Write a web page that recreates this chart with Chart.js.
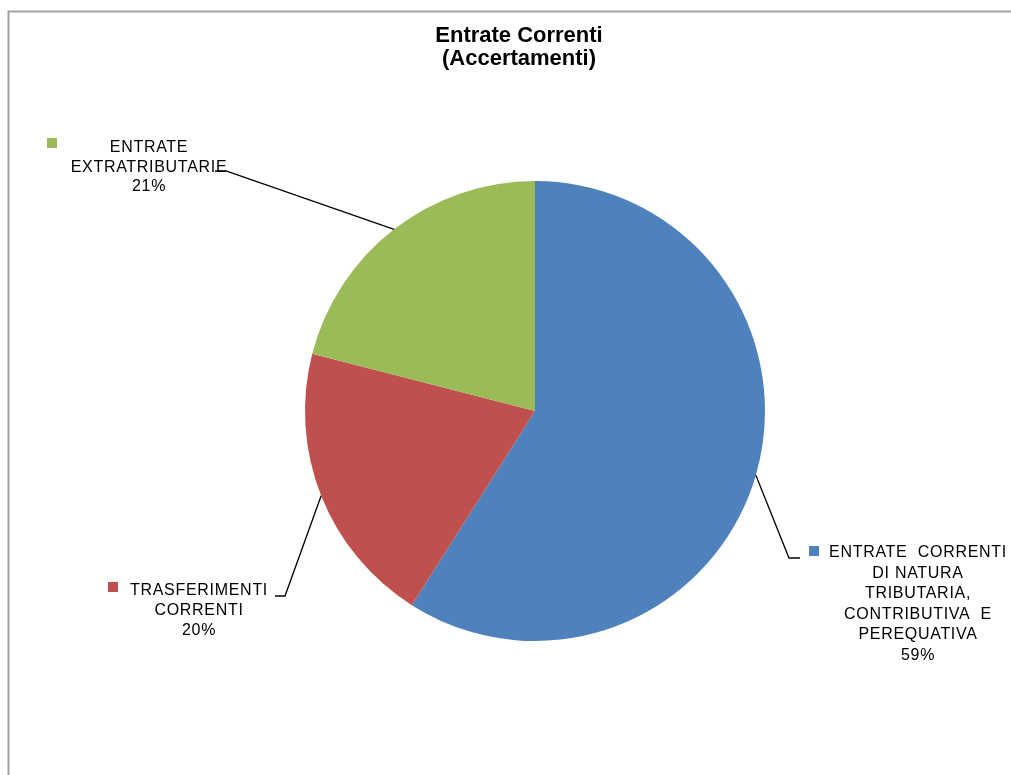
<!DOCTYPE html>
<html>
<head>
<meta charset="utf-8">
<script src="https://cdn.jsdelivr.net/npm/chart.js@4.4.1/dist/chart.umd.min.js"></script>
<style>
  html, body { margin: 0; padding: 0; background: #ffffff; }
  #wrap { position: absolute; left: 0; top: 0; width: 1011px; height: 775px; }
</style>
</head>
<body>
<div id="wrap"><canvas id="c" width="1011" height="775"></canvas></div>
<script>
// ---- data ----
const titleLines = ['Entrate Correnti', '(Accertamenti)'];
const categories = [
  'ENTRATE  CORRENTI DI NATURA TRIBUTARIA, CONTRIBUTIVA  E PEREQUATIVA',
  'TRASFERIMENTI CORRENTI',
  'ENTRATE EXTRATRIBUTARIE'
];
const categoryLines = [
  ['ENTRATE  CORRENTI', 'DI NATURA', 'TRIBUTARIA,', 'CONTRIBUTIVA  E', 'PEREQUATIVA'],
  ['TRASFERIMENTI', 'CORRENTI'],
  ['ENTRATE', 'EXTRATRIBUTARIE']
];
const values = [59, 20, 21];
const colors = ['#4F81BD', '#C0504D', '#9BBB59'];

// ---- label layout (positions of the outside labels) ----
const labelLayout = [
  { cx: 918, y0: 557, lh: 20.6, sq: [809, 546], lead: [[800, 558], [789, 558]] },
  { cx: 199, y0: 595, lh: 20,   sq: [108, 582], lead: [[275, 596], [285, 596]] },
  { cx: 149, y0: 152, lh: 19.5, sq: [47, 138],  lead: [[215, 171], [226, 171]] }
];

const FONT = '"Liberation Sans", Arial, sans-serif';

const framePlugin = {
  id: 'frame',
  beforeDraw(chart) {
    const ctx = chart.ctx;
    ctx.save();
    ctx.fillStyle = '#ffffff';
    ctx.fillRect(0, 0, chart.width, chart.height);
    ctx.strokeStyle = '#a0a0a0';
    ctx.lineWidth = 2;
    ctx.beginPath();
    ctx.moveTo(8.5, chart.height);
    ctx.lineTo(8.5, 11.5);
    ctx.lineTo(chart.width, 11.5);
    ctx.stroke();
    ctx.restore();
  }
};

const titlePlugin = {
  id: 'titleText',
  afterDraw(chart) {
    const ctx = chart.ctx;
    ctx.save();
    ctx.fillStyle = '#000000';
    ctx.font = 'bold 22px ' + FONT;
    ctx.textAlign = 'center';
    ctx.textBaseline = 'alphabetic';
    titleLines.forEach((t, i) => ctx.fillText(t, 519, 42 + i * 23));
    ctx.restore();
  }
};

const labelPlugin = {
  id: 'outLabels',
  afterDatasetsDraw(chart) {
    const ctx = chart.ctx;
    const meta = chart.getDatasetMeta(0);
    const total = values.reduce((a, b) => a + b, 0);
    ctx.save();
    meta.data.forEach((arc, i) => {
      const p = arc.getProps(['x', 'y', 'startAngle', 'endAngle', 'outerRadius'], true);
      const mid = (p.startAngle + p.endAngle) / 2;
      const ex = p.x + Math.cos(mid) * p.outerRadius;
      const ey = p.y + Math.sin(mid) * p.outerRadius;
      const L = labelLayout[i];
      // leader line
      ctx.strokeStyle = '#000000';
      ctx.lineWidth = 1.3;
      ctx.beginPath();
      ctx.moveTo(L.lead[0][0], L.lead[0][1]);
      ctx.lineTo(L.lead[1][0], L.lead[1][1]);
      ctx.lineTo(ex, ey);
      ctx.stroke();
      // legend key square
      ctx.fillStyle = colors[i];
      ctx.fillRect(L.sq[0], L.sq[1], 10, 10);
      // text
      ctx.fillStyle = '#000000';
      ctx.font = '16px ' + FONT;
      if ('letterSpacing' in ctx) ctx.letterSpacing = '0.7px';
      ctx.textAlign = 'center';
      ctx.textBaseline = 'alphabetic';
      const lines = categoryLines[i].concat([Math.round(values[i] / total * 100) + '%']);
      lines.forEach((t, k) => ctx.fillText(t, L.cx, L.y0 + k * L.lh));
      if ('letterSpacing' in ctx) ctx.letterSpacing = '0px';
    });
    ctx.restore();
  }
};

new Chart(document.getElementById('c'), {
  type: 'pie',
  data: {
    labels: categories,
    datasets: [{
      data: values,
      backgroundColor: colors,
      borderWidth: 0
    }]
  },
  options: {
    responsive: false,
    animation: false,
    layout: { padding: { top: 181, bottom: 134, left: 59, right: 0 } },
    plugins: {
      legend: { display: false },
      tooltip: { enabled: false },
      title: { display: false }
    }
  },
  plugins: [framePlugin, titlePlugin, labelPlugin]
});
</script>
</body>
</html>
